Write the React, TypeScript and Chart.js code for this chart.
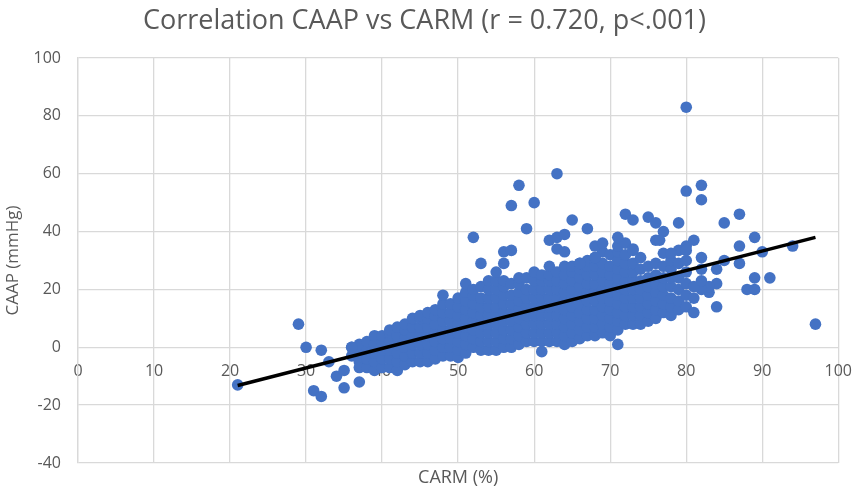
import { useEffect, useRef } from "react";
import { Chart, registerables } from "chart.js";

Chart.register(...registerables);

const chartTitle = "Correlation CAAP vs CARM (r = 0.720, p<.001)";
const xTitle = "CARM (%)";
const yTitle = "CAAP (mmHg)";

// Dense body of the cloud: one CARM value per column, with the CAAP values read in that column
const clusterCarm = [
  36, 37, 38, 39, 40, 41, 42, 43, 44, 45,
  46, 47, 48, 49, 50, 51, 52, 53, 54, 55,
  56, 57, 58, 59, 60, 61, 62, 63, 64, 65,
  66, 67, 68, 69, 70, 71, 72, 73, 74, 75,
  76, 77, 78, 79, 80,
];
const clusterCaap = [
  [0, -3],
  [-5, -2, 1, -7],
  [-7, -4, -1, 2],
  [-8, -5, -2, 1, 4],
  [-7, -4, -1, 2, 4],
  [-7, -4, -1, 2, 5, 6],
  [-8, -5, -2, 1, 4, 7],
  [-6, -3, 0, 3, 6, 8],
  [-5, -2, 1, 4, 7, 10],
  [-5, -2, 1, 4, 7, 10, 11],
  [-5, -2, 1, 4, 7, 10, 12],
  [-4, -1, 2, 5, 8, 11, 13],
  [-3, 0, 3, 6, 9, 12, 15, 18],
  [-3, 0, 3, 6, 9, 12, 15],
  [-3.5, -1, 2, 5, 8, 11, 14, 17],
  [-2, 1, 4, 7, 10, 13, 16, 19, 22],
  [0, 3, 6, 9, 12, 15, 18, 20],
  [-1, 2, 5, 8, 11, 14, 17, 21],
  [-1, 2, 5, 8, 11, 14, 17, 20, 23],
  [-1, 2, 5, 8, 11, 14, 17, 20, 23, 26],
  [0, 3, 6, 9, 12, 15, 18, 21, 23],
  [0, 3, 6, 9, 12, 15, 18, 22],
  [1, 4, 7, 10, 13, 16, 19, 22, 24],
  [2, 5, 8, 11, 14, 17, 20, 24],
  [2, 5, 8, 11, 14, 17, 20, 23, 26],
  [2, 5, 8, 11, 14, 17, 20, 23, 25],
  [2, 5, 8, 11, 14, 17, 20, 23, 25, 28],
  [2, 5, 8, 11, 14, 17, 20, 23, 26],
  [1, 4, 7, 10, 13, 16, 19, 22, 25, 28],
  [2, 5, 8, 11, 14, 17, 20, 23, 26, 28],
  [3, 6, 9, 12, 15, 18, 21, 24, 27, 29],
  [4, 7, 10, 13, 16, 19, 22, 25, 28, 30],
  [4, 7, 10, 13, 16, 19, 22, 25, 28, 31],
  [5, 8, 11, 14, 17, 20, 23, 26, 29, 33],
  [4, 7, 10, 13, 16, 19, 22, 25, 28, 32],
  [6, 9, 12, 15, 18, 21, 24, 27, 30, 33, 35],
  [8, 11, 14, 17, 20, 23, 26, 29, 32, 36],
  [8, 11, 14, 17, 20, 23, 26, 29, 34],
  [8, 11, 14, 17, 20, 23, 27, 31],
  [9, 12, 15, 18, 21, 24, 28],
  [10, 13, 16, 19, 22, 25, 29, 37],
  [12, 15, 18, 21, 24, 28, 32.5, 40],
  [11, 14, 17, 21, 24, 27, 30],
  [13, 16, 20, 24, 29, 33.5],
  [14, 18, 22, 26, 30, 35],
];

// Isolated points around the cloud
const outlierCarm = [
  21, 29, 30, 32, 31, 32, 33, 34, 35, 35,
  37, 36, 52, 53, 56, 56, 57, 57, 58, 59,
  60, 63, 62, 63, 64, 63, 64, 66, 65, 67,
  68, 69, 71, 68, 73, 72, 73, 75, 76, 76.5,
  79, 80, 80, 82, 82, 81, 85, 87, 82, 82,
  84, 84, 83, 83, 82, 81, 81, 81, 84, 85,
  87, 87, 89, 90, 89, 91, 88, 89, 94, 97,
  71, 61, 82, 80, 78,
];
const outlierCaap = [
  -13, 8, 0, -1, -15, -17, -5, -10, -8, -14,
  -12, 0, 38, 29, 29, 33, 33.5, 49, 56, 41,
  50, 60, 37, 38, 39, 34, 33, 29, 44, 41,
  35, 36, 38, 31, 33.5, 46, 44, 45, 43, 37,
  43, 83, 54, 56, 51, 37, 43, 46, 31, 27,
  27, 22, 19, 21, 20, 17, 12, 21, 14, 30,
  29, 35, 38, 33, 24, 24, 20, 20, 35, 8,
  1, -1.5, 23, 33.5, 32.5,
];

// Linear trendline end points
const trendCarm = [21, 97];
const trendCaap = [-13.2, 38];

const FONT = "'Open Sans', 'Noto Sans', sans-serif";
const TEXT = "#595959";
const GRID = "#d9d9d9";
const BLUE = "#4472C4";

export default function App() {
  const canvasRef = useRef<HTMLCanvasElement | null>(null);

  useEffect(() => {
    document.body.style.margin = "0";
    const canvas = canvasRef.current;
    if (!canvas) return;

    const points = clusterCarm
      .flatMap((x, i) => clusterCaap[i].map((y) => ({ x, y })))
      .concat(outlierCarm.map((x, i) => ({ x, y: outlierCaap[i] })));
    const trend = trendCarm.map((x, i) => ({ x, y: trendCaap[i] }));

    const chart = new Chart(canvas, {
      type: "scatter",
      data: {
        datasets: [
          {
            type: "line",
            data: trend,
            borderColor: "#000000",
            borderWidth: 3.5,
            pointRadius: 0,
            fill: false,
            order: 0,
          },
          {
            data: points,
            backgroundColor: BLUE,
            borderColor: BLUE,
            borderWidth: 0,
            pointRadius: 5.8,
            order: 1,
          },
        ],
      },
      options: {
        responsive: false,
        animation: false,
        devicePixelRatio: 1,
        layout: { padding: { top: 0, right: 18, bottom: 0, left: 0 } },
        plugins: {
          legend: { display: false },
          tooltip: { enabled: false },
          title: {
            display: true,
            text: chartTitle,
            color: TEXT,
            font: { family: FONT, size: 27, weight: "normal" },
            padding: { top: 5, bottom: 20.6 },
          },
        },
        scales: {
          x: {
            type: "linear",
            min: 0,
            max: 100,
            position: { y: 0 },
            ticks: {
              stepSize: 10,
              color: TEXT,
              font: { family: FONT, size: 16 },
              padding: 15,
              maxRotation: 0,
            },
            grid: { color: GRID, lineWidth: 1.3, drawTicks: false },
            border: { display: false },
          },
          x2: {
            type: "linear",
            axis: "x",
            position: "bottom",
            min: 0,
            max: 100,
            ticks: { display: false },
            grid: { display: false, drawTicks: false },
            border: { display: false },
            title: {
              display: true,
              text: xTitle,
              color: TEXT,
              font: { family: FONT, size: 18 },
              padding: { top: 0, bottom: 5 },
            },
            afterFit: (s: any) => {
              s.height = 31;
            },
          },
          y: {
            type: "linear",
            min: -40,
            max: 100,
            position: "left",
            ticks: {
              stepSize: 20,
              color: TEXT,
              font: { family: FONT, size: 16 },
              padding: 17,
            },
            grid: { color: GRID, lineWidth: 1.3, drawTicks: false },
            border: { display: true, color: GRID, width: 1.3 },
            title: {
              display: true,
              text: yTitle,
              color: TEXT,
              font: { family: FONT, size: 17 },
              padding: { top: 3, bottom: 0 },
            },
            afterFit: (s: any) => {
              s.width = 78;
            },
          },
        },
      },
    });

    return () => {
      chart.destroy();
    };
  }, []);

  return (
    <div style={{ width: 867, height: 494, background: "#ffffff" }}>
      <canvas ref={canvasRef} width={867} height={494} style={{ display: "block", width: 867, height: 494 }} />
    </div>
  );
}
